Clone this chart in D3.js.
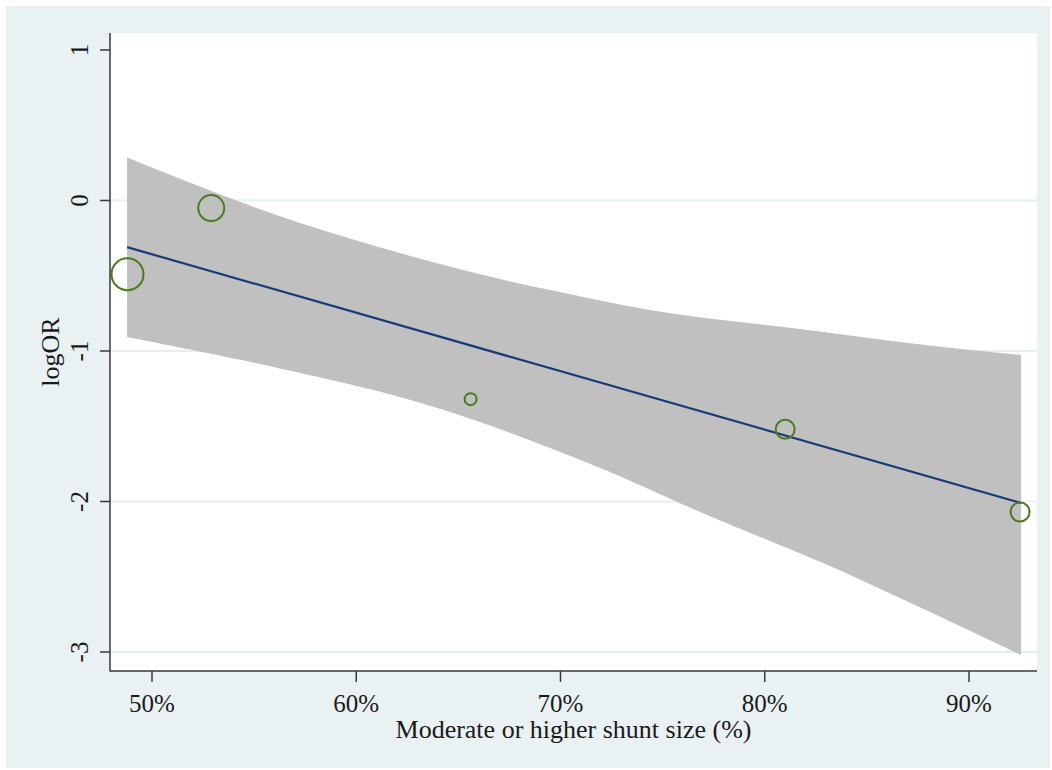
<!DOCTYPE html>
<html>
<head>
<meta charset="utf-8">
<script src="https://cdn.jsdelivr.net/npm/d3@7"></script>
<style>
  html, body { margin: 0; padding: 0; background: #ffffff; }
  svg { display: block; }
  text { font-family: "Liberation Serif", "Times New Roman", serif; fill: #1a1a1a; }
</style>
</head>
<body>
<svg id="chart" width="1052" height="770"></svg>
<script>
// ---- Data ----
const shuntPct = [48.8, 52.9, 65.6, 81.0, 92.5];          // x: moderate or higher shunt size (%)
const logOR    = [-0.49, -0.05, -1.32, -1.52, -2.07];     // y: log odds ratio
const weights  = [256, 169, 36, 90, 90];                   // study weights (marker area)

const fitX = [48.78, 92.55];
const fitY = [-0.31, -2.01];

const ciUpperX = [48.78, 57.25, 62.14, 67.04, 69.49, 74.38, 81.73, 86.62, 92.55];
const ciUpper  = [0.286, -0.150, -0.349, -0.522, -0.595, -0.728, -0.854, -0.940, -1.027];
const ciLowerX = [48.78, 57.25, 62.14, 64.59, 69.49, 71.94, 76.84, 84.18, 86.62, 92.55];
const ciLower  = [-0.907, -1.146, -1.306, -1.405, -1.645, -1.777, -2.070, -2.488, -2.641, -3.020];

const xTicks = [50, 60, 70, 80, 90];
const xTickLabels = ["50%", "60%", "70%", "80%", "90%"];
const yTicks = [1, 0, -1, -2, -3];
const yTickLabels = ["1", "0", "-1", "-2", "-3"];
const yGridTicks = [0, -1, -2, -3];

const xTitle = "Moderate or higher shunt size (%)";
const yTitle = "logOR";

// ---- Layout ----
const plot = { left: 110, top: 33, right: 1037, bottom: 671 };
const svg = d3.select("#chart");

svg.append("rect").attr("x", 6).attr("y", 6).attr("width", 1044).attr("height", 762)
  .attr("fill", "#e9f1f3");
svg.append("rect").attr("x", plot.left).attr("y", plot.top)
  .attr("width", plot.right - plot.left).attr("height", plot.bottom - plot.top)
  .attr("fill", "#ffffff");

const x = d3.scaleLinear().domain([50, 90]).range([152, 969]);
const y = d3.scaleLinear().domain([1, -3]).range([50, 652]);
const r = d3.scaleSqrt().domain([0, 256]).range([0, 16]);

// gridlines
svg.append("g").selectAll("line").data(yGridTicks).join("line")
  .attr("x1", plot.left).attr("x2", plot.right)
  .attr("y1", d => y(d)).attr("y2", d => y(d))
  .attr("stroke", "#e6eff1").attr("stroke-width", 2);

// confidence band: upper edge left->right, lower edge sampled and reversed
const lineGen = d3.line().curve(d3.curveMonotoneX);
const upPts = ciUpperX.map((v, i) => [x(v), y(ciUpper[i])]);
const loPts = ciLowerX.map((v, i) => [x(v), y(ciLower[i])]);
const upPath = lineGen(upPts);
const tmp = svg.append("path").attr("d", lineGen(loPts)).attr("fill", "none");
const lenLo = tmp.node().getTotalLength();
const loSamples = [];
for (let i = 0; i <= 200; i++) {
  const p = tmp.node().getPointAtLength(lenLo * i / 200);
  loSamples.push([p.x, p.y]);
}
tmp.remove();
const poly = upPath + loSamples.reverse().map(p => "L" + p[0] + "," + p[1]).join("") + "Z";
svg.append("path").attr("d", poly).attr("fill", "#c0c0c0").attr("stroke", "none");

// fitted line
svg.append("path")
  .attr("d", d3.line()(fitX.map((v, i) => [x(v), y(fitY[i])])))
  .attr("fill", "none").attr("stroke", "#1a3a78").attr("stroke-width", 2.2);

// study markers
svg.append("g").selectAll("circle").data(shuntPct).join("circle")
  .attr("cx", d => x(d))
  .attr("cy", (d, i) => y(logOR[i]))
  .attr("r", (d, i) => r(weights[i]))
  .attr("fill", "none").attr("stroke", "#4b7b1e").attr("stroke-width", 2);

// axes lines
const axisColor = "#3a3a3a";
svg.append("line").attr("x1", plot.left).attr("x2", plot.left)
  .attr("y1", plot.top).attr("y2", plot.bottom + 0.5)
  .attr("stroke", axisColor).attr("stroke-width", 1.5);
svg.append("line").attr("x1", plot.left).attr("x2", plot.right)
  .attr("y1", plot.bottom).attr("y2", plot.bottom)
  .attr("stroke", axisColor).attr("stroke-width", 1.5);

// y ticks
svg.append("g").selectAll("line").data(yTicks).join("line")
  .attr("x1", 100).attr("x2", plot.left)
  .attr("y1", d => y(d)).attr("y2", d => y(d))
  .attr("stroke", axisColor).attr("stroke-width", 1.5);
svg.append("g").selectAll("text").data(yTicks).join("text")
  .attr("transform", d => `translate(88,${y(d)}) rotate(-90)`)
  .attr("text-anchor", "middle")
  .attr("font-size", 25)
  .text((d, i) => yTickLabels[i]);

// x ticks
svg.append("g").selectAll("line").data(xTicks).join("line")
  .attr("x1", d => x(d)).attr("x2", d => x(d))
  .attr("y1", plot.bottom).attr("y2", 682)
  .attr("stroke", axisColor).attr("stroke-width", 1.5);
svg.append("g").selectAll("text").data(xTicks).join("text")
  .attr("x", d => x(d)).attr("y", 712)
  .attr("text-anchor", "middle")
  .attr("font-size", 25)
  .text((d, i) => xTickLabels[i]);

// titles
svg.append("text").attr("x", (plot.left + plot.right) / 2).attr("y", 738)
  .attr("text-anchor", "middle").attr("font-size", 26).text(xTitle);
svg.append("text")
  .attr("transform", `translate(59,${(plot.top + plot.bottom) / 2}) rotate(-90)`)
  .attr("text-anchor", "middle").attr("font-size", 26).text(yTitle);
</script>
</body>
</html>
